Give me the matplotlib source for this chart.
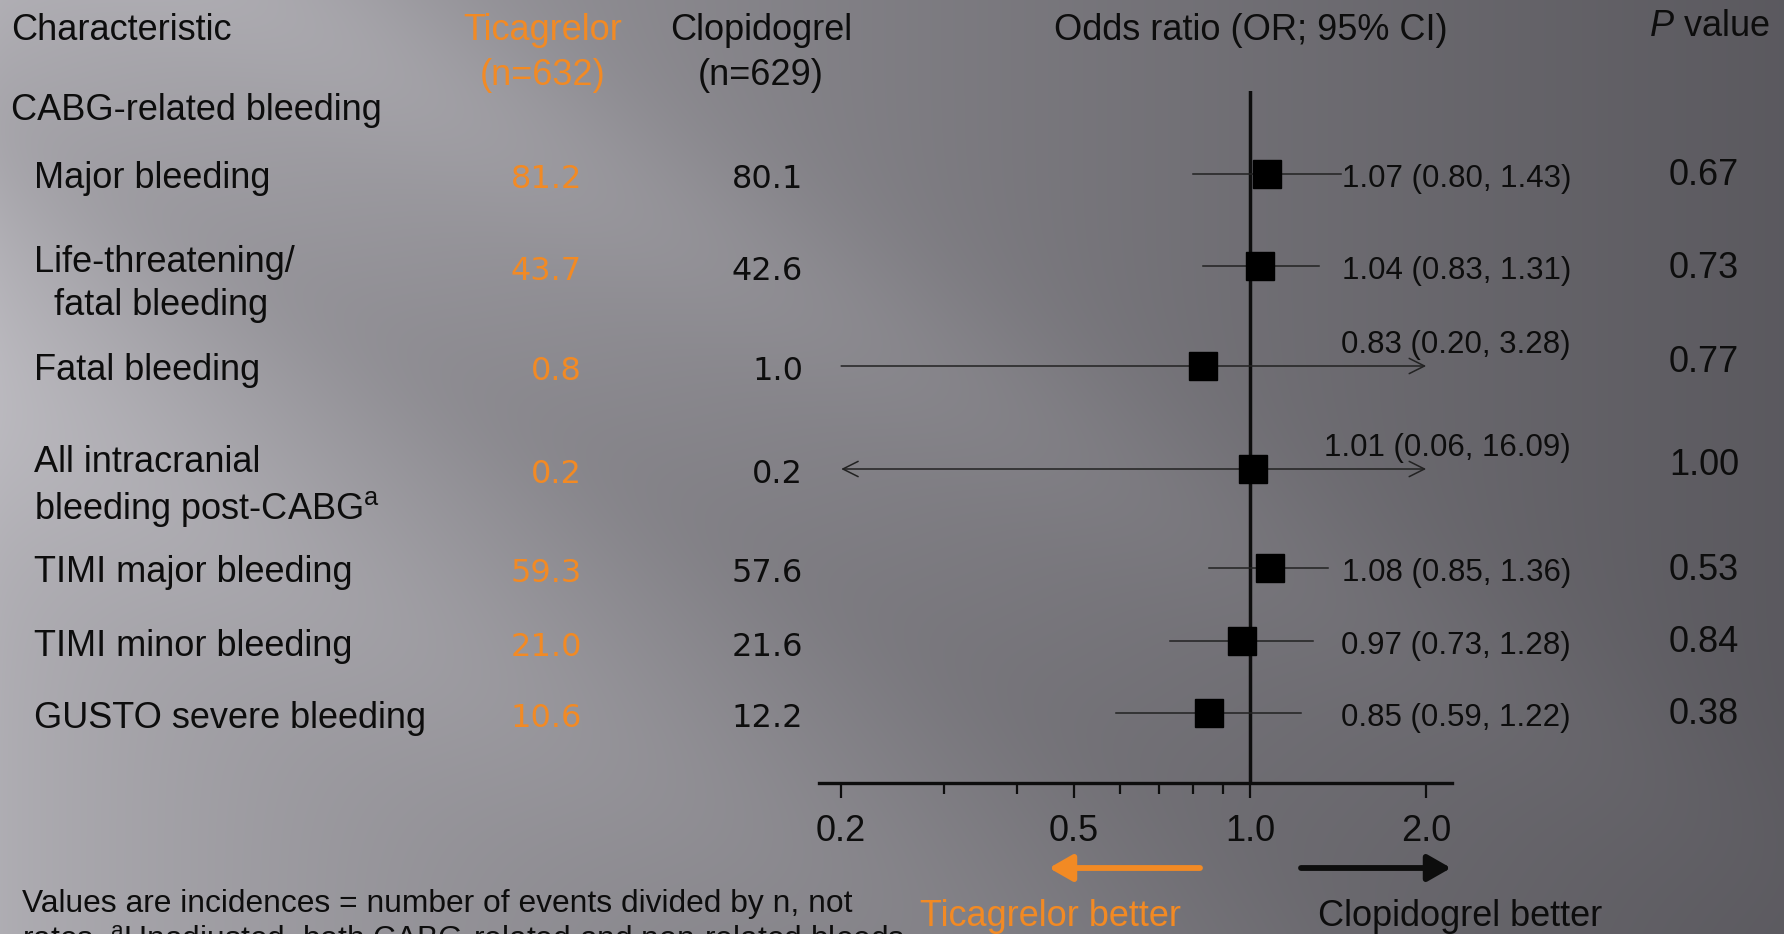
import numpy as np
import matplotlib
matplotlib.use("Agg")
import matplotlib.pyplot as plt
import matplotlib.transforms as mtransforms
from matplotlib.patches import FancyArrowPatch
from matplotlib.ticker import FixedLocator, NullFormatter

# --- Data ---
categories = [
    "Major bleeding",
    "Life-threatening/\n  fatal bleeding",
    "Fatal bleeding",
    "All intracranial\nbleeding post-CABG$^{\\rm a}$",
    "TIMI major bleeding",
    "TIMI minor bleeding",
    "GUSTO severe bleeding",
]
ticagrelor = [81.2, 43.7, 0.8, 0.2, 59.3, 21.0, 10.6]
clopidogrel = [80.1, 42.6, 1.0, 0.2, 57.6, 21.6, 12.2]
odds_ratio = [1.07, 1.04, 0.83, 1.01, 1.08, 0.97, 0.85]
ci_low = [0.80, 0.83, 0.20, 0.06, 0.85, 0.73, 0.59]
ci_high = [1.43, 1.31, 3.28, 16.09, 1.36, 1.28, 1.22]
p_values = [0.67, 0.73, 0.77, 1.00, 0.53, 0.84, 0.38]
tick_values = [0.2, 0.5, 1.0, 2.0]
tick_labels = ["0.2", "0.5", "1.0", "2.0"]
minor_ticks = [0.3, 0.4, 0.6, 0.7, 0.8, 0.9]
n_ticagrelor = 632
n_clopidogrel = 629

# --- Style / layout ---
W, H = 1784, 934
ORANGE = "#F28A24"
INK = "#0d0d0d"
FONT = "Liberation Sans"
plt.rcParams["font.family"] = [FONT, "DejaVu Sans"]
plt.rcParams["mathtext.fontset"] = "custom"
plt.rcParams["mathtext.rm"] = FONT
plt.rcParams["mathtext.it"] = FONT + ":italic"

# row gaps in units of 100 px (two-line labels need more room)
row_gaps = [0.92, 1.00, 1.03, 0.99, 0.73, 0.72]
row_y = 1.74 + np.cumsum([0] + row_gaps)
two_line = ["\n" in c for c in categories]
clip_lo, clip_hi = 0.2, 2.0


def fx(px):
    return px / W


def fy(py):
    return 1 - py / H


fig = plt.figure(figsize=(W / 100, H / 100), dpi=100)

# --- Background: grey gradient with soft diagonal streaks ---
bg = fig.add_axes([0, 0, 1, 1], zorder=-10)
yy, xx = np.mgrid[0:H:2, 0:W:2].astype(float)
lum = 0.69 - 0.33 * (xx / W) ** 0.8
diag = yy - 0.56 * xx
lum += 0.055 * np.exp(-((diag + 150) / 110) ** 2) * np.clip(1.2 - xx / W, 0, 1)
lum += 0.045 * np.exp(-((diag - 400) / 140) ** 2) * np.clip(1.1 - xx / W, 0, 1)
lum -= 0.03 * np.exp(-((diag - 130) / 90) ** 2) * np.clip(1 - xx / W, 0, 1)
rgb = np.dstack([lum - 0.004, lum - 0.01, lum + 0.012]).clip(0, 1)
bg.imshow(rgb, aspect="auto", interpolation="bilinear")
bg.axis("off")

# --- Forest plot axes (log odds ratio) ---
ax_left, ax_right, ax_top, ax_bottom = 819, 1452, 91, 783
ax = fig.add_axes([fx(ax_left), fy(ax_bottom), fx(ax_right - ax_left),
                   (ax_bottom - ax_top) / H])
ax.patch.set_alpha(0)
ax.set_xscale("log")
ax.set_xlim(0.1833, 2.214)
ax.set_ylim(ax_bottom / 100, ax_top / 100)

for s in ["left", "top", "right"]:
    ax.spines[s].set_visible(False)
ax.spines["bottom"].set_linewidth(2.4)
ax.spines["bottom"].set_color(INK)
ax.set_yticks([])
ax.xaxis.set_major_locator(FixedLocator(tick_values))
ax.set_xticklabels(tick_labels)
ax.xaxis.set_minor_locator(FixedLocator(minor_ticks))
ax.xaxis.set_minor_formatter(NullFormatter())
ax.tick_params(axis="x", which="major", length=11, width=1.6, pad=11,
               labelsize=26, colors=INK)
ax.tick_params(axis="x", which="minor", length=8, width=1.6, colors=INK)

ax.axvline(1.0, color=INK, lw=2.5, zorder=2)

for y, orv, lo, hi in zip(row_y, odds_ratio, ci_low, ci_high):
    lo_c, hi_c = max(lo, clip_lo), min(hi, clip_hi)
    left_arrow, right_arrow = lo < clip_lo, hi > clip_hi
    if left_arrow or right_arrow:
        style = ("<->" if left_arrow and right_arrow else
                 "->" if right_arrow else "<-")
        ax.annotate("", xy=(hi_c, y), xytext=(lo_c, y),
                    arrowprops=dict(arrowstyle=style + ",head_length=1.1,head_width=0.55",
                                    lw=1.1, color="#222222", shrinkA=0, shrinkB=0),
                    zorder=3)
    else:
        ax.plot([lo_c, hi_c], [y, y], color="#222222", lw=1.1, zorder=3)
    ax.plot(orv, y, marker="s", ms=19.5, color="black", zorder=4)

# --- Text columns ---
trans = mtransforms.blended_transform_factory(fig.transFigure, ax.transData)

ax.text(fx(11), 0.31, "Characteristic", transform=trans, fontsize=26,
        color=INK, va="center", ha="left")
ax.text(fx(543), 0.31, "Ticagrelor", transform=trans, fontsize=26,
        color=ORANGE, va="center", ha="center")
ax.text(fx(543), 0.76, f"(n={n_ticagrelor})", transform=trans, fontsize=26,
        color=ORANGE, va="center", ha="center")
ax.text(fx(761), 0.31, "Clopidogrel", transform=trans, fontsize=26,
        color=INK, va="center", ha="center")
ax.text(fx(761), 0.76, f"(n={n_clopidogrel})", transform=trans, fontsize=26,
        color=INK, va="center", ha="center")
ax.text(fx(1251), 0.31, "Odds ratio (OR; 95% CI)", transform=trans,
        fontsize=26, color=INK, va="center", ha="center")
ax.text(fx(1649), 0.27, "$\\it{P}$ value", transform=trans, fontsize=26,
        color=INK, va="center", ha="left")
ax.text(fx(11), 1.11, "CABG-related bleeding", transform=trans, fontsize=26,
        color=INK, va="center", ha="left")

for i, y in enumerate(row_y):
    ax.text(fx(34), y + (0.18 if two_line[i] else 0.05), categories[i],
            transform=trans, fontsize=26, color=INK, va="center", ha="left",
            linespacing=1.32)
    ax.text(fx(582), y + 0.06, f"{ticagrelor[i]:.1f}", transform=trans,
            fontsize=23, family="DejaVu Sans", color=ORANGE,
            va="center", ha="right")
    ax.text(fx(803), y + 0.06, f"{clopidogrel[i]:.1f}", transform=trans,
            fontsize=23, family="DejaVu Sans", color=INK,
            va="center", ha="right")
    clipped = ci_low[i] < clip_lo or ci_high[i] > clip_hi
    ax.text(fx(1571), y + (-0.21 if clipped else 0.05),
            f"{odds_ratio[i]:.2f} ({ci_low[i]:.2f}, {ci_high[i]:.2f})",
            transform=trans, fontsize=22.5, color=INK, va="center", ha="right")
    ax.text(fx(1739), y + (-0.03 if clipped else 0.02), f"{p_values[i]:.2f}",
            transform=trans, fontsize=26, color=INK, va="center", ha="right")

# --- Direction arrows under the axis ---
fig.add_artist(FancyArrowPatch(
    (fx(1200), fy(868)), (fx(1049), fy(868)), transform=fig.transFigure,
    arrowstyle="-|>,head_length=14,head_width=8", lw=4.2, color=ORANGE,
    mutation_scale=1, shrinkA=0, shrinkB=0))
fig.add_artist(FancyArrowPatch(
    (fx(1301), fy(868)), (fx(1451), fy(868)), transform=fig.transFigure,
    arrowstyle="-|>,head_length=14,head_width=8", lw=4.2, color=INK,
    mutation_scale=1, shrinkA=0, shrinkB=0))
fig.text(fx(1050), fy(916), "Ticagrelor better", fontsize=26, color=ORANGE,
         ha="center", va="center")
fig.text(fx(1460), fy(916), "Clopidogrel better", fontsize=26, color=INK,
         ha="center", va="center")

# --- Footnote (second line runs off the bottom edge, as in the slide) ---
fig.text(fx(22), fy(912), "Values are incidences = number of events divided by n, not",
         fontsize=22.9, color=INK, ha="left", va="baseline")
fig.text(fx(22), fy(949),
         "rates. $^{\\rm a}$Unadjusted, both CABG-related and non-related bleeds",
         fontsize=22.9, color=INK, ha="left", va="baseline")

fig.savefig("out.png", dpi=100)
